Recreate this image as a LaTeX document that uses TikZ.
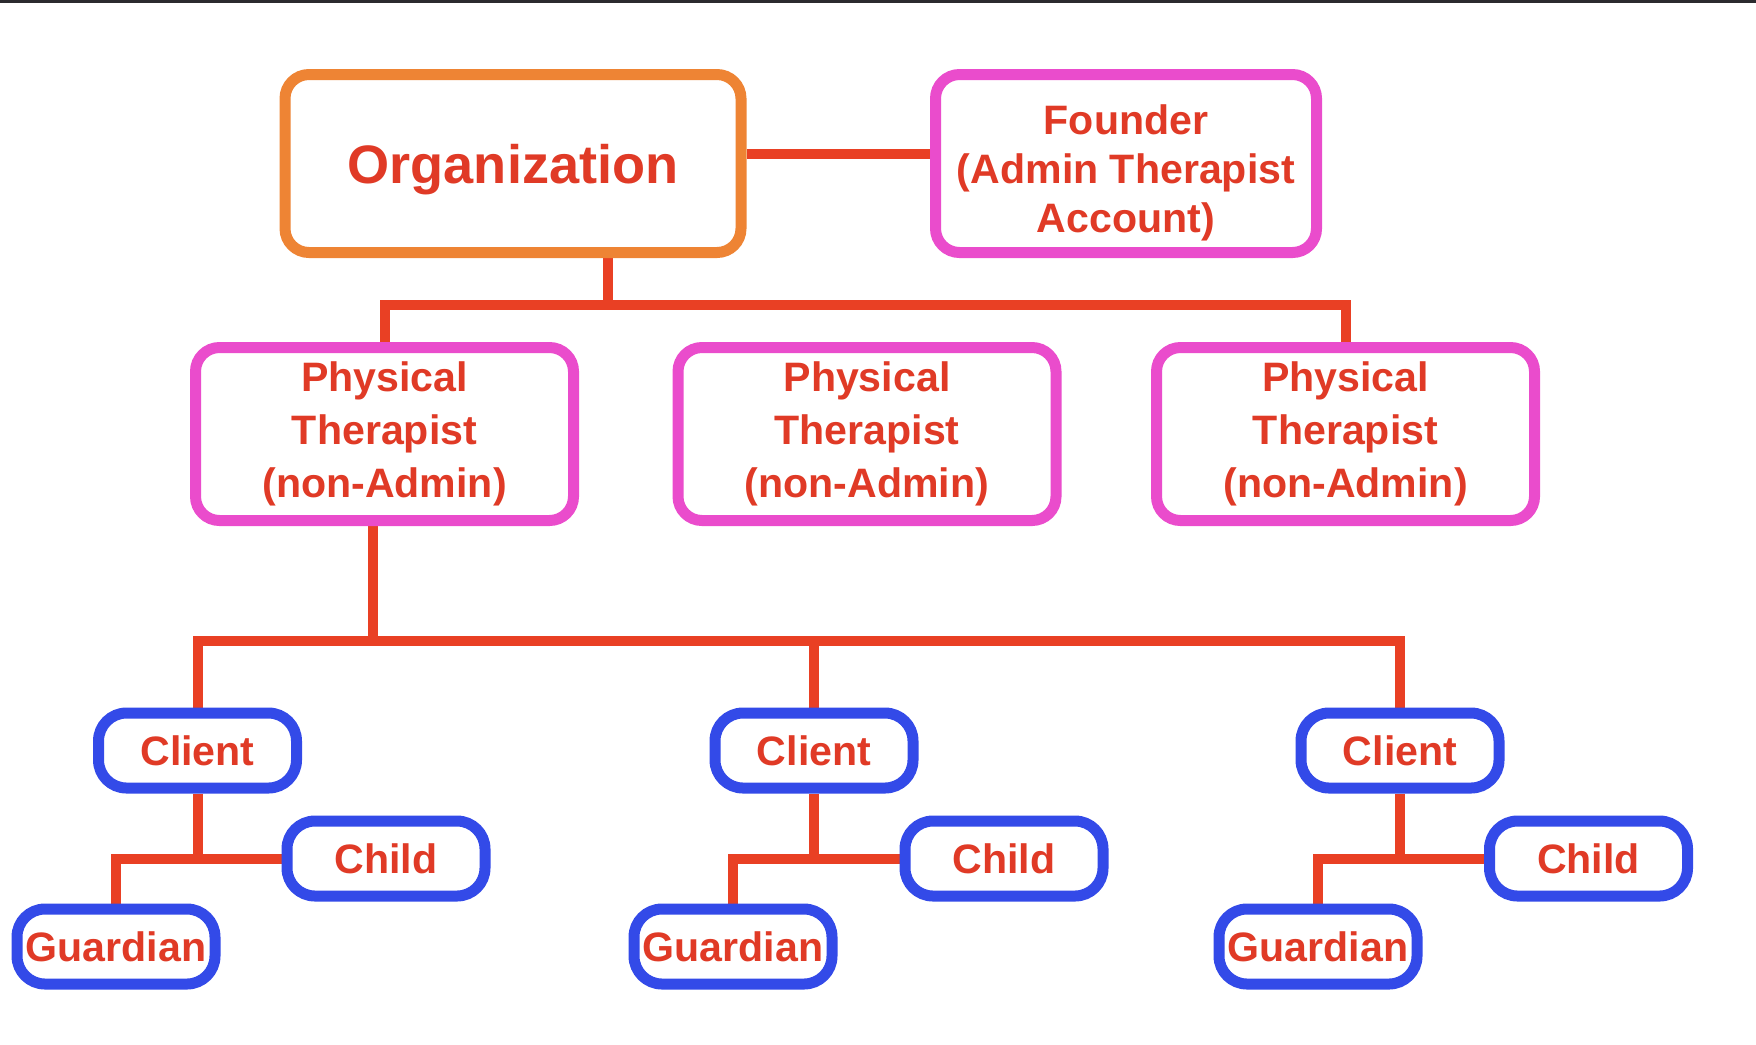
\documentclass[tikz,border=0pt]{standalone}
\usepackage{fontspec}
\setmainfont{Liberation Sans}
\usepackage{tikz}
\usetikzlibrary{positioning, calc, backgrounds}
\usepackage{xcolor}
\definecolor{orgorange}{HTML}{EE8434}
\definecolor{ptpink}{HTML}{EA4CCC}
\definecolor{clientblue}{HTML}{334AE8}
\definecolor{linkred}{HTML}{E94024}
\definecolor{labelred}{HTML}{E03A26}
\definecolor{topbar}{HTML}{2B2A2E}

\begin{document}
\begin{tikzpicture}[
  box/.style={draw, line width=1.1mm, rounded corners=2.4mm, fill=white, inner sep=0pt,
    align=center, text=labelred, font=\bfseries\fontsize{11.7}{15}\selectfont},
  orgbox/.style={box, draw=orgorange, minimum width=4.56cm, minimum height=1.78cm,
    font=\bfseries\fontsize{15.4}{18}\selectfont},
  adminbox/.style={box, draw=ptpink, minimum width=3.81cm, minimum height=1.78cm,
    font=\bfseries\fontsize{11.7}{14}\selectfont},
  ptbox/.style={box, draw=ptpink, minimum width=3.78cm, minimum height=1.73cm},
  personbox/.style={box, draw=clientblue, rounded corners=2.8mm, minimum width=1.98cm, minimum height=0.75cm},
  link/.style={draw=linkred, line width=1mm}
]
\useasboundingbox (0,0) rectangle (17.56,-10.44);
\fill[topbar] (0,0) rectangle (17.56,-0.025);

% Top level
\node[orgbox] (org) at (5.13, -1.635) {\raisebox{-0.6mm}[\height][\depth]{Organization}};
\node[adminbox] (founder) at (11.26, -1.635) {\raisebox{-1mm}[\height][\depth]{\begin{tabular}{@{}c@{}}Founder\\(Admin Therapist\\Account)\end{tabular}}};

% Therapists
\node[ptbox] (pt1) at (3.845, -4.34) {Physical\\Therapist\\(non-Admin)};
\node[ptbox] (pt2) at (8.67, -4.34) {Physical\\Therapist\\(non-Admin)};
\node[ptbox] (pt3) at (13.455, -4.34) {Physical\\Therapist\\(non-Admin)};

% Clients
\node[personbox] (client1) at (1.975, -7.505) {Client};
\node[personbox] (client2) at (8.14, -7.505) {Client};
\node[personbox] (client3) at (14.0, -7.505) {Client};

% Child and guardian of each client
\node[personbox] (child1) at (3.86, -8.585) {Child};
\node[personbox] (child2) at (10.04, -8.585) {Child};
\node[personbox] (child3) at (15.885, -8.585) {Child};

\node[personbox] (guard1) at (1.16, -9.465) {Guardian};
\node[personbox] (guard2) at (7.33, -9.465) {Guardian};
\node[personbox] (guard3) at (13.18, -9.465) {Guardian};

% Connectors, behind the boxes
\coordinate (orgbus) at (6.08, -3.05);
\coordinate (ptbus) at (3.73, -6.41);
\begin{scope}[on background layer]
\draw[link] ([yshift=1mm]org.east) -- ([yshift=1mm]founder.west);
\draw[link] (org.south -| orgbus) -- (orgbus);
\draw[link] (pt1.north) |- (orgbus) -| (pt3.north);

\draw[link] (pt1.south -| ptbus) -- (ptbus);
\draw[link] (client1.north) |- (ptbus) -| (client3.north);
\draw[link] (client2.north) -- (client2.north |- ptbus);

\draw[link] (client1.south) |- (child1.west);
\draw[link] (guard1.north) |- (child1.west);
\draw[link] (client2.south) |- (child2.west);
\draw[link] (guard2.north) |- (child2.west);
\draw[link] (client3.south) |- (child3.west);
\draw[link] (guard3.north) |- (child3.west);
\end{scope}
\end{tikzpicture}
\end{document}
